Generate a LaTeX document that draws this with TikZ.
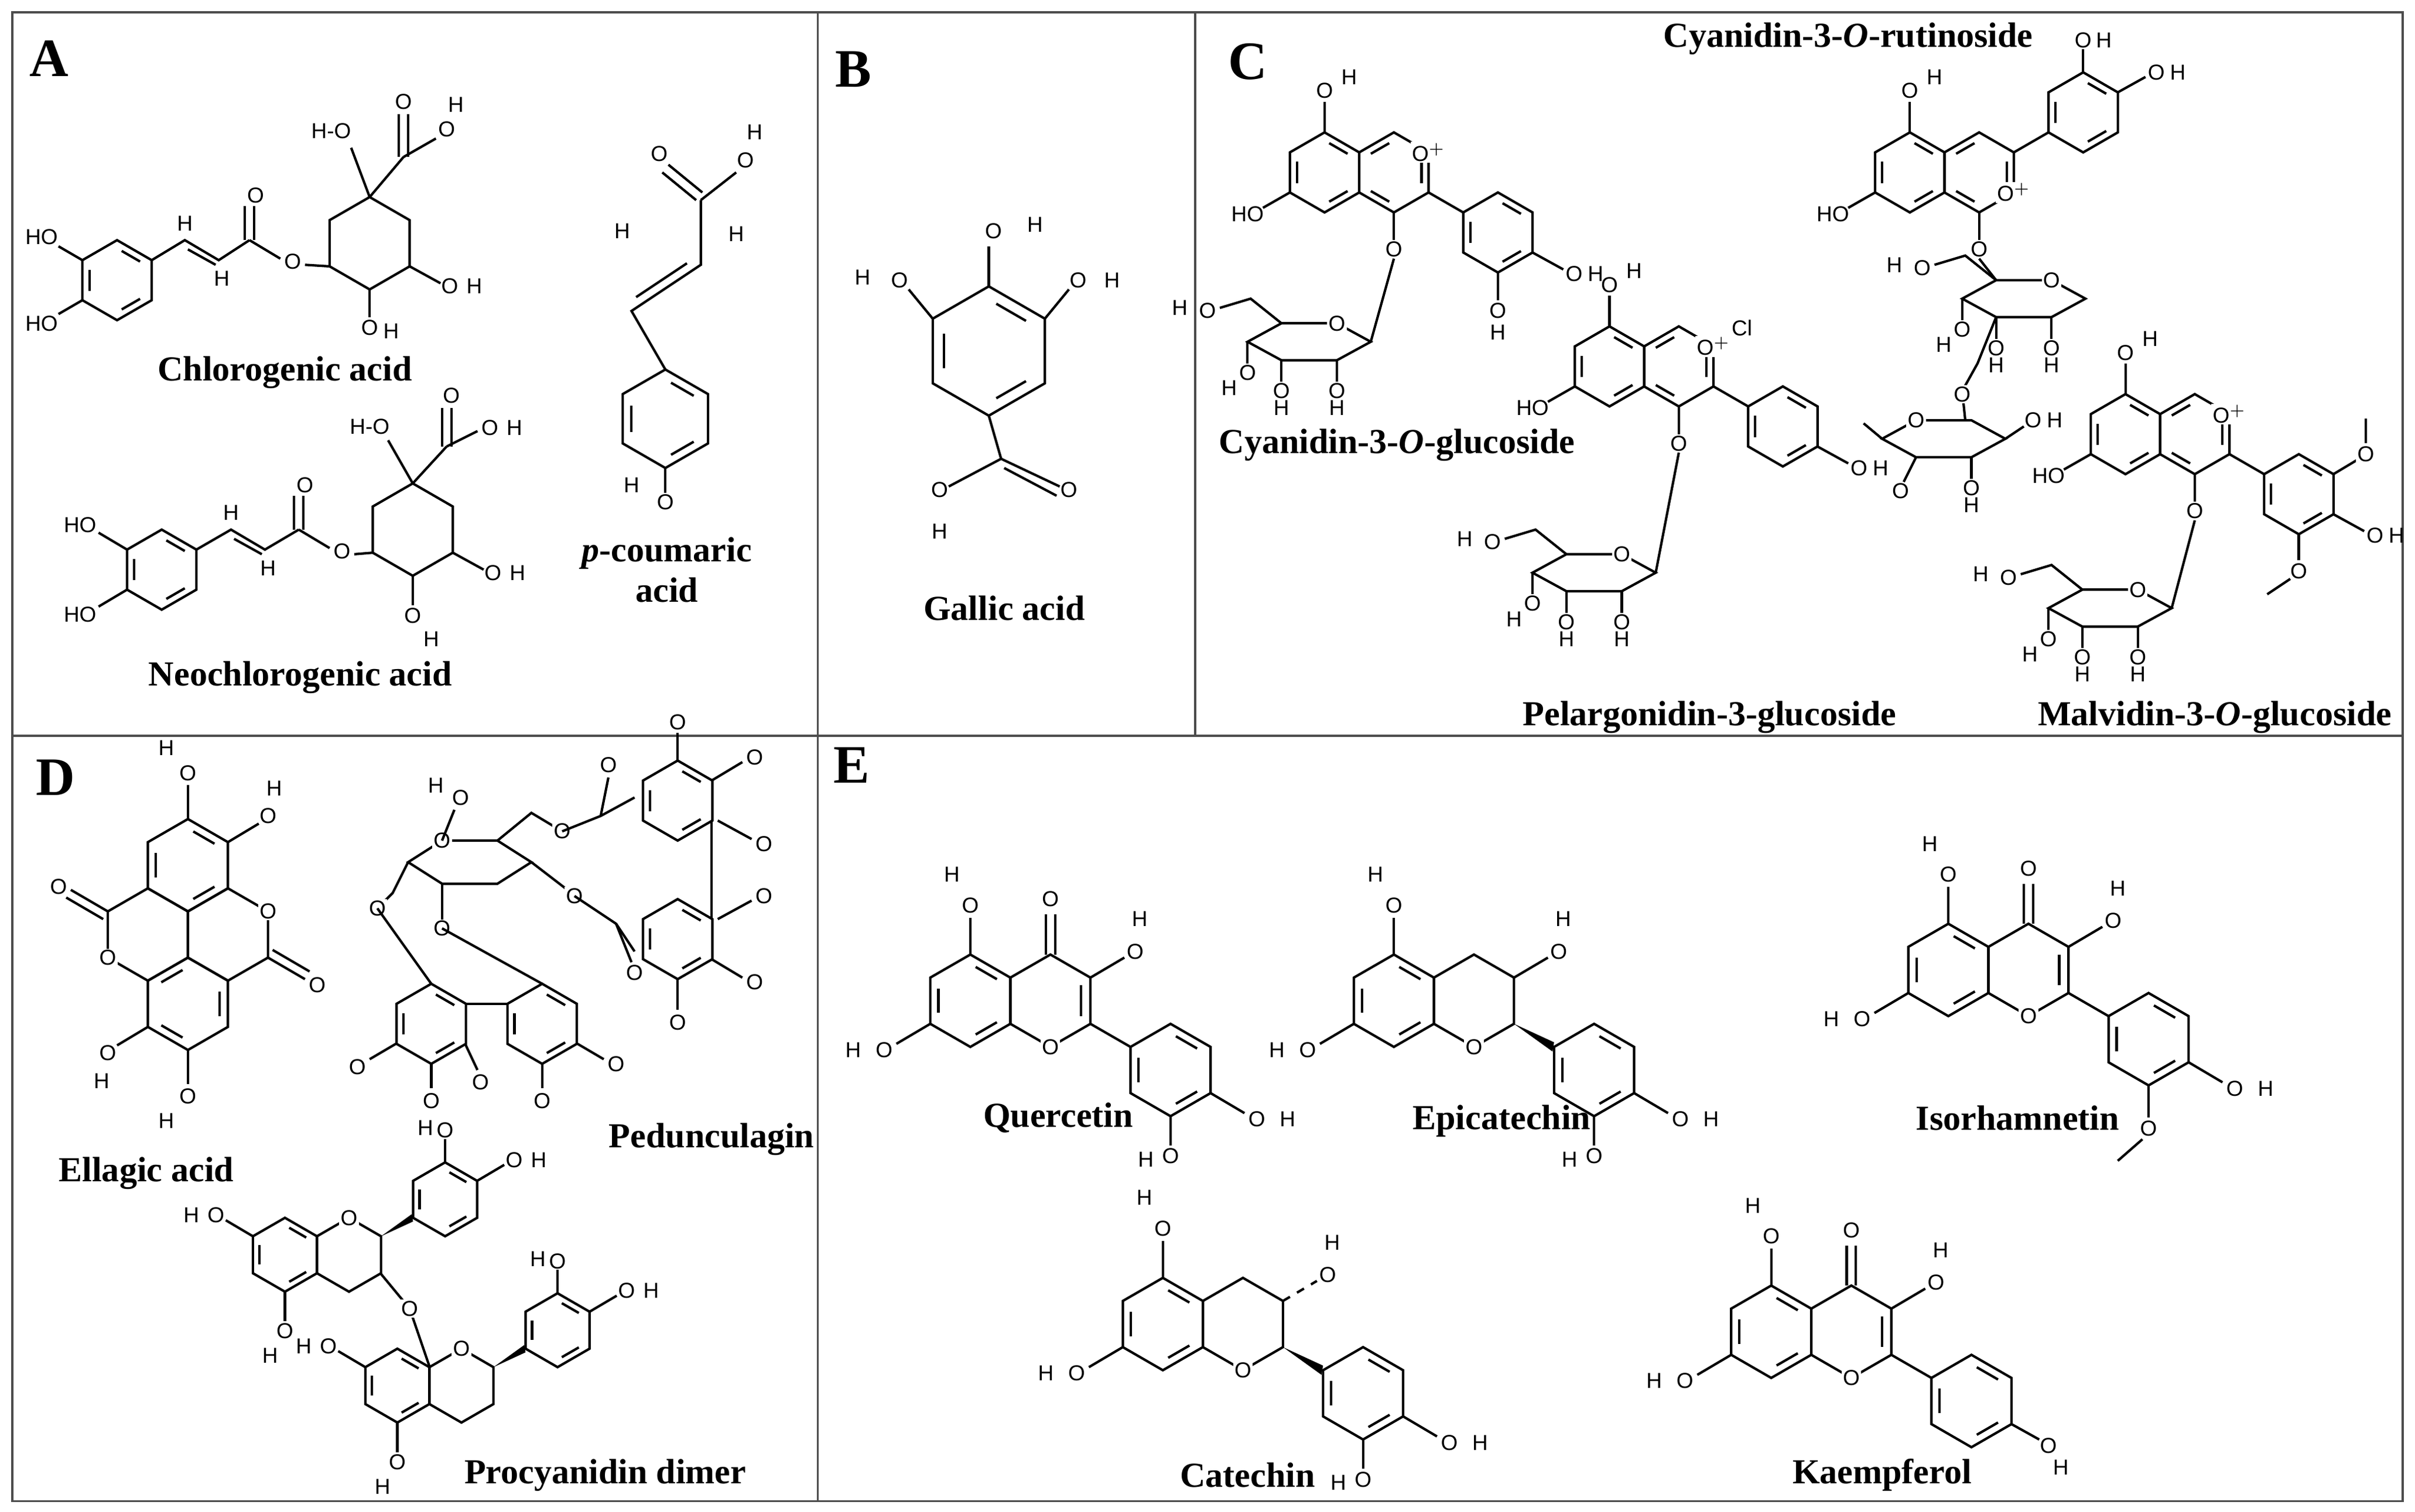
\documentclass[tikz,border=0pt]{standalone}
\usepackage{fontspec}
\setmainfont{Liberation Serif}
\newfontfamily\atomfont{Liberation Sans}
\usetikzlibrary{calc}
\tikzset{
 bond/.style={line width=0.9pt},
 atom/.style={font=\atomfont\fontsize{8}{9}\selectfont,inner sep=0.5pt},
 atw/.style={atom,fill=white},
 lbl/.style={font=\bfseries\fontsize{13}{15}\selectfont},
 pan/.style={font=\bfseries\fontsize{20}{22}\selectfont},
 frame/.style={line width=0.8pt,draw=black!70}
}
\newcommand\hx[3]{\draw[bond] (#1,#2) +(30:#3) -- +(90:#3) -- +(150:#3) -- +(210:#3) -- +(270:#3) -- +(330:#3) -- cycle;}
\newcommand\ar[4]{\hx{#1}{#2}{#3}\begin{scope}[shift={(#1,#2)}]\foreach \a in {#4,#4+120,#4+240}{\draw[bond] (\a+9:{0.74*#3}) -- (\a+51:{0.74*#3});}\end{scope}}
\newcommand\at[3]{\node[atom] at (#1,#2) {#3};}
\newcommand\aw[3]{\node[atw] at (#1,#2) {#3};}
\newcommand\flavone[3]{\begin{scope}[shift={(#1,#2)}]
 \ar{0}{0}{30}{30}\hx{52}{0}{30}
 \draw[bond] (72,-10)--(72,10);
 \draw[bond] (78,15)--(104,30);
 \ar{130}{45}{30}{30}
 \draw[bond] (49,-30)--(49,-56) (55,-30)--(55,-56); \at{52}{-66}{O}
 \draw[bond] (78,-15)--(100,-28); \at{107}{-32}{O}\at{110}{-53}{H}
 \draw[bond] (0,-30)--(0,-54); \at{0}{-62}{O}\at{-12}{-82}{H}
 \draw[bond] (-26,15)--(-48,28); \at{-56}{32}{O}\at{-76}{32}{H}
 \aw{52}{30}{O}
 #3
\end{scope}}
\newcommand\flavan[3]{\begin{scope}[shift={(#1,#2)}]
 \ar{0}{0}{30}{30}\hx{52}{0}{30}
 \fill (78,15)--(104,27)--(103,33)--cycle;
 \ar{130}{45}{30}{30}
 \draw[bond] (0,-30)--(0,-54); \at{0}{-62}{O}\at{-12}{-82}{H}
 \draw[bond] (-26,15)--(-48,28); \at{-56}{32}{O}\at{-76}{32}{H}
 \aw{52}{30}{O}
 #3
\end{scope}}
\newcommand\catechol{\draw[bond] (156,60)--(178,73); \at{186}{77}{O}\at{206}{77}{H}
 \draw[bond] (130,75)--(130,94); \at{130}{101}{O}\at{114}{103}{H}}
\newcommand\antho[4]{\begin{scope}[shift={(#1,#2)}]
 \ar{0}{0}{26}{30}\ar{45}{0}{26}{90}
 \begin{scope}[shift={(45,0)}]\node[atw] at (-#3:26) {O$^{+}$};
 \draw[bond] (#3:26)--(#3:52);
 \begin{scope}[shift={(#3:78)}]\ar{0}{0}{26}{30}\end{scope}\end{scope}
 \draw[bond] (0,-26)--(0,-46); \at{0}{-53}{O}\at{16}{-62}{H}
 \draw[bond] (-22.5,13)--(-40,23); \at{-50}{27}{HO}
 \draw[bond] (45,26)--(45,44); \aw{45}{50}{O}
 #4
\end{scope}}
\newcommand\sugar[2]{\begin{scope}[shift={(#1,#2)}]
 \draw[bond] (-40,0)--(-18,-12)--(18,-12)--(40,0)--(18,12)--(-18,12)--cycle;
 \aw{18}{-12}{O}
 \draw[bond] (-40,0)--(-40,14); \at{-40}{20}{O}\at{-52}{30}{H}
 \draw[bond] (-18,12)--(-18,26); \at{-18}{32}{O}\at{-18}{43}{H}
 \draw[bond] (18,12)--(18,26); \at{18}{32}{O}\at{18}{43}{H}
 \draw[bond] (-18,-12)--(-38,-28)--(-58,-22); \at{-66}{-20}{O}\at{-84}{-22}{H}
\end{scope}}
\begin{document}
\begin{tikzpicture}[x=0.02cm,y=-0.02cm]
\useasboundingbox (0,0) rectangle (1568,982);
\fill[white] (0,0) rectangle (1568,982);
\draw[frame] (8,8) rectangle (1560,975);
\draw[frame] (8,478) -- (1560,478);
\draw[frame] (531,8) -- (531,975);
\draw[frame] (776,8) -- (776,478);
\node[pan] (pA) at (32,38) {A};
\node[pan] (pB) at (554,45) {B};
\node[pan] (pC) at (810,40) {C};
\node[pan] (pD) at (36,505) {D};
\node[pan] (pE) at (553,497) {E};

% ---------- A ----------
\ar{76}{182}{26}{30}
\draw[bond] (53.5,169)--(38,160); \at{27}{154}{HO}
\draw[bond] (53.5,195)--(38,204); \at{27}{210}{HO}
\draw[bond] (98.5,169)--(120,156)--(142,169)--(162,156);
\draw[bond] (122,162)--(140,172);
\at{120}{145}{H}\at{144}{181}{H}
\draw[bond] (159,156)--(159,134) (165,156)--(165,134); \at{166}{127}{O}
\draw[bond] (162,156)--(182,168); \aw{190}{170}{O}
\hx{240}{158}{30}
\draw[bond] (198,172)--(214,173);
\draw[bond] (240,128)--(228,96); \at{215}{85}{H-O}
\draw[bond] (240,128)--(262,102); \draw[bond] (259,102)--(259,74) (265,102)--(265,74); \at{262}{66}{O}
\draw[bond] (262,102)--(283,90); \at{290}{84}{O}\at{296}{68}{H}
\draw[bond] (240,188)--(240,206); \at{240}{213}{O}\at{254}{215}{H}
\draw[bond] (266,173)--(286,184); \at{292}{186}{O}\at{308}{186}{H}
\node[lbl] (l1) at (185,242) {Chlorogenic acid};
\ar{105}{370}{26}{30}
\draw[bond] (82.5,357)--(64,346); \at{52}{341}{HO}
\draw[bond] (82.5,383)--(64,394); \at{52}{399}{HO}
\draw[bond] (127.5,357)--(150,344)--(172,357)--(194,344);
\draw[bond] (152,350)--(170,360);
\at{150}{333}{H}\at{174}{369}{H}
\draw[bond] (191,344)--(191,322) (197,344)--(197,322); \at{198}{315}{O}
\draw[bond] (194,344)--(214,356); \aw{222}{358}{O}
\hx{268}{344}{30}
\draw[bond] (230,360)--(242,359);
\draw[bond] (268,314)--(252,286); \at{240}{277}{H-O}
\draw[bond] (268,314)--(290,290); \draw[bond] (287,290)--(287,265) (293,290)--(293,265); \at{293}{257}{O}
\draw[bond] (290,290)--(310,280); \at{318}{278}{O}\at{334}{278}{H}
\draw[bond] (268,374)--(268,393); \at{268}{400}{O}\at{280}{415}{H}
\draw[bond] (294,359)--(314,370); \at{320}{372}{O}\at{336}{372}{H}
\node[lbl] (l2) at (195,440) {Neochlorogenic acid};
\ar{432}{272}{32}{30}
\draw[bond] (432,240)--(410,202)--(455,172)--(455,130);
\draw[bond] (413,193)--(446,171);
\at{404}{150}{H}\at{478}{152}{H}
\draw[bond] (452,130)--(430,112) (456,125)--(434,107); \at{428}{100}{O}
\draw[bond] (455,130)--(478,112); \at{484}{104}{O}\at{490}{86}{H}
\draw[bond] (432,304)--(432,320); \at{410}{315}{H}\at{432}{326}{O}
\node[lbl,align=center] (l3) at (433,370) {\textit{p}-coumaric\\acid};

% ---------- B ----------
\ar{642}{228}{42}{30}
\draw[bond] (642,186)--(642,160); \at{645}{150}{O}\at{672}{146}{H}
\draw[bond] (605.6,207)--(590,188); \at{584}{182}{O}\at{560}{180}{H}
\draw[bond] (678.4,207)--(694,188); \at{700}{182}{O}\at{722}{182}{H}
\draw[bond] (642,270)--(650,298);
\draw[bond] (650,298)--(688,316) (652,304)--(686,322); \at{694}{318}{O}
\draw[bond] (650,298)--(616,316); \at{610}{318}{O}\at{610}{345}{H}
\node[lbl] (l4) at (652,395) {Gallic acid};

% ---------- C ----------
\antho{860}{112}{30}{\draw[bond] (135,52)--(155,63); \at{162}{66}{O}\at{176}{66}{H}
 \draw[bond] (112.5,65)--(112.5,83); \at{112.5}{90}{O}\at{112.5}{104}{H}}
\sugar{850}{222}
\draw[bond] (890,222)--(905,168);
\node[lbl] (l5) at (907,289) {Cyanidin-3-\textit{O}-glucoside};

\antho{1240}{112}{330}{\draw[bond] (112.5,-65)--(112.5,-80); \at{112.5}{-86}{O}\at{126}{-86}{H}
 \draw[bond] (135,-52)--(153,-62); \at{160}{-65}{O}\at{174}{-65}{H}}
\sugar{1314}{194}
\draw[bond] (1296,182)--(1285,168);
\draw[bond] (1296,206)--(1284,236)--(1274,254)--(1276,273);
\aw{1274}{256}{O}
\begin{scope}[shift={(1262,285)}]
 \draw[bond] (-40,0)--(-18,-12)--(18,-12)--(40,0)--(18,12)--(-18,12)--cycle;
 \aw{-18}{-12}{O}
 \draw[bond] (-40,0)--(-52,-10);
 \draw[bond] (-18,12)--(-26,28); \at{-28}{34}{O}
 \draw[bond] (18,12)--(18,26); \at{18}{32}{O}\at{18}{43}{H}
 \draw[bond] (40,0)--(52,-8); \at{58}{-12}{O}\at{72}{-12}{H}
\end{scope}
\node[lbl] (l6) at (1200,25) {Cyanidin-3-\textit{O}-rutinoside};

\antho{1045}{238}{30}{\draw[bond] (135,52)--(155,63); \at{162}{66}{O}\at{176}{66}{H}}
\at{1131}{213}{Cl}
\sugar{1035}{372}
\draw[bond] (1075,372)--(1090,294);
\node[lbl] (l7) at (1110,466) {Pelargonidin-3-glucoside};

\antho{1380}{282}{30}{\draw[bond] (135,52)--(155,63); \at{162}{66}{O}\at{176}{66}{H}
 \draw[bond] (112.5,65)--(112.5,82); \aw{112.5}{89}{O}\draw[bond] (107,94)--(92,104);
 \draw[bond] (135,26)--(150,17); \aw{156}{13}{O}\draw[bond] (156,6)--(156,-10);}
\sugar{1370}{395}
\draw[bond] (1410,395)--(1425,338);
\node[lbl] (l8) at (1438,466) {Malvidin-3-\textit{O}-glucoside};

% ---------- D ----------
\ar{122}{562}{30}{30}
\ar{122}{652}{30}{90}
\hx{96}{607}{30}\hx{148}{607}{30}
\aw{70}{622}{O}\aw{174}{592}{O}
\draw[bond] (70,592)--(46,578) (67,597)--(43,583); \at{38}{576}{O}
\draw[bond] (174,622)--(198,636) (177,617)--(201,631); \at{206}{640}{O}
\draw[bond] (122,532)--(122,510); \at{122}{502}{O}\at{108}{486}{H}
\draw[bond] (148,547)--(168,535); \at{174}{530}{O}\at{178}{512}{H}
\draw[bond] (122,682)--(122,704); \at{122}{712}{O}\at{108}{728}{H}
\draw[bond] (96,667)--(76,679); \at{70}{684}{O}\at{66}{702}{H}
\node[lbl] (l9) at (95,762) {Ellagic acid};
\begin{scope}[shift={(305,560)}]
 \draw[bond] (-40,0)--(-18,-14)--(18,-14)--(40,0)--(18,14)--(-18,14)--cycle;
 \aw{-18}{-14}{O}
 \draw[bond] (-18,-14)--(-10,-34); \at{-6}{-42}{O}\at{-22}{-50}{H}
 \draw[bond] (18,-14)--(40,-32)--(60,-20); \aw{60}{-20}{O}
 \draw[bond] (40,0)--(66,20); \aw{68}{22}{O}
 \draw[bond] (-40,0)--(-50,20)--(-60,30); \aw{-60}{30}{O}
 \draw[bond] (-18,14)--(-18,40); \aw{-18}{43}{O}
\end{scope}
\draw[bond] (365,540)--(390,530)--(412,518);
\draw[bond] (390,530)--(395,505); \at{395}{497}{O}
\draw[bond] (373,582)--(400,600)--(412,618);
\draw[bond] (400,600)--(410,625); \at{412}{632}{O}
\ar{440}{520}{26}{30}\ar{440}{610}{26}{30}
\draw[bond] (462,533)--(462,597);
\draw[bond] (440,494)--(440,476); \at{440}{469}{O}
\draw[bond] (462,507)--(482,495); \at{490}{492}{O}
\draw[bond] (466,533)--(488,545); \at{496}{548}{O}
\draw[bond] (466,597)--(488,585); \at{496}{582}{O}
\draw[bond] (462,623)--(482,635); \at{490}{638}{O}
\draw[bond] (440,636)--(440,656); \at{440}{664}{O}
\ar{280}{665}{26}{30}\ar{352}{665}{26}{30}
\draw[bond] (302,652)--(330,652);
\draw[bond] (245,590)--(280,639);
\draw[bond] (287,603)--(352,639);
\draw[bond] (257,678)--(240,688); \at{232}{693}{O}
\draw[bond] (280,691)--(280,707); \at{280}{715}{O}
\draw[bond] (302,678)--(310,695); \at{312}{703}{O}
\draw[bond] (352,691)--(352,707); \at{352}{715}{O}
\draw[bond] (375,678)--(392,688); \at{400}{691}{O}
\node[lbl] (l10) at (462,740) {Pedunculagin};
\begin{scope}[shift={(185,815)},xscale=0.8,yscale=-0.8]
 \flavan{0}{0}{\catechol}
\end{scope}
\begin{scope}[shift={(258,900)},xscale=0.8,yscale=-0.8]
 \flavan{0}{0}{\catechol}
\end{scope}
\draw[bond] (247,827)--(266,850)--(279,888);
\aw{266}{850}{O}
\node[lbl] (l11) at (393,958) {Procyanidin dimer};

% ---------- E ----------
\flavone{630}{650}{\catechol}
\node[lbl] (l12) at (687,726) {Quercetin};
\flavan{905}{650}{\draw[bond] (78,-15)--(100,-28); \at{107}{-32}{O}\at{110}{-53}{H}\catechol}
\node[lbl] (l13) at (975,728) {Epicatechin};
\flavone{1265}{630}{\draw[bond] (156,60)--(178,73); \at{186}{77}{O}\at{206}{77}{H}
 \draw[bond] (130,75)--(130,96); \aw{130}{103}{O}\draw[bond] (126,110)--(110,124);}
\node[lbl] (l14) at (1310,726) {Isorhamnetin};
\flavan{755}{860}{\draw[bond,dashed] (78,-15)--(100,-28); \at{107}{-32}{O}\at{110}{-53}{H}\catechol}
\node[lbl] (l15) at (810,958) {Catechin};
\flavone{1150}{865}{\draw[bond] (156,60)--(174,70); \at{180}{74}{O}\at{188}{88}{H}}
\node[lbl] (l16) at (1222,958) {Kaempferol};
\end{tikzpicture}
\end{document}
